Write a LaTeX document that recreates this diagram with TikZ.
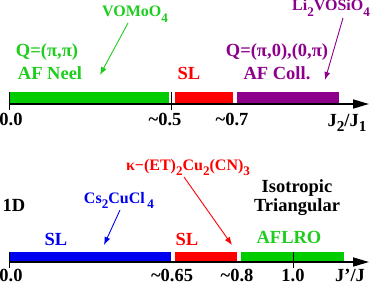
\documentclass[tikz,border=0pt]{standalone}
\usepackage{fontspec}
\usepackage{graphicx}
\setmainfont{Liberation Serif}
\usetikzlibrary{arrows.meta}
\definecolor{mygreen}{RGB}{0,204,0}
\definecolor{mytxtgreen}{RGB}{30,205,30}
\definecolor{mypurple}{RGB}{140,0,140}
\definecolor{myred}{RGB}{255,0,0}
\definecolor{myblue}{RGB}{0,0,240}
\newcommand{\lowsub}[1]{\raisebox{-0.32em}{\scalebox{0.82}{#1}}}
\begin{document}
\begin{tikzpicture}[x=1pt,y=-1pt,
  lbl/.style={anchor=base,inner sep=0pt,font=\fontsize{18.5}{20}\selectfont\bfseries},
  cmp/.style={anchor=base,inner sep=0pt,font=\fontsize{16}{18}\selectfont\bfseries},
  axisline/.style={line width=1.6pt,-{Triangle[length=16pt,width=9pt]}},
  tickline/.style={line width=0.8pt},
  ptr/.style={line width=0.9pt,-{Latex[length=8pt,width=6pt]}}]
\useasboundingbox (0,0) rectangle (374,286);
% ---------- top axis ----------
\fill[mygreen]  (9,92) rectangle (169,102.5);
\fill[myred]    (175,92) rectangle (233,102.5);
\fill[mypurple] (237,92) rectangle (339,102.5);
\coordinate (a0) at (9,104);
\coordinate (a1) at (369,104);
\draw[axisline] (a0) -- (a1);
\coordinate (t0a) at (9,92); \coordinate (t0b) at (9,110);
\coordinate (t5a) at (171,92); \coordinate (t5b) at (171,110);
\draw[tickline] (t0a) -- (t0b);
\draw[tickline] (t5a) -- (t5b);
\node[lbl] (l00) at (11,125) {0.0};
\node[lbl] (l05) at (165,125) {\textasciitilde0.5};
\node[lbl] (l07) at (232,125) {\textasciitilde0.7};
\node[lbl] (lj) at (347,126) {J\lowsub{2}/J\lowsub{1}};
\node[cmp,text=mytxtgreen] (vomo) at (135,17) {VOMoO\lowsub{4}};
\node[lbl,text=mytxtgreen] (qpp) at (47,57) {Q=(π,π)};
\node[lbl,text=mytxtgreen] (afn) at (50,80) {AF Neel};
\node[lbl,text=myred] (sl1) at (189,80) {SL};
\node[lbl,text=mypurple] (qp0) at (277,57) {Q=(π,0),(0,π)};
\node[lbl,text=mypurple] (afc) at (277,80) {AF Coll.};
\node[cmp,text=mypurple] (li) at (331,11) {Li\lowsub{2}VOSiO\lowsub{4}};
\coordinate (v1) at (128,23); \coordinate (v2) at (100,75);
\draw[ptr,mytxtgreen] (v1) -- (v2);
\coordinate (li1) at (343,18); \coordinate (li2) at (325,80);
\draw[ptr,mypurple] (li1) -- (li2);
% ---------- bottom axis ----------
\fill[myblue]   (9,252) rectangle (171,260.5);
\fill[myred]    (175,252) rectangle (237,260.5);
\fill[mygreen]  (241,252) rectangle (344,260.5);
\coordinate (b0) at (9,262);
\coordinate (b1) at (369,262);
\draw[axisline] (b0) -- (b1);
\coordinate (u0a) at (9,252); \coordinate (u0b) at (9,268);
\coordinate (u1a) at (293,252); \coordinate (u1b) at (293,268);
\draw[tickline] (u0a) -- (u0b);
\draw[tickline] (u1a) -- (u1b);
\node[lbl] (m00) at (11,281) {0.0};
\node[lbl] (m065) at (172,281) {\textasciitilde0.65};
\node[lbl] (m08) at (237,281) {\textasciitilde0.8};
\node[lbl] (m10) at (293,281) {1.0};
\node[lbl] (mj) at (350,281) {J'/J};
\node[lbl] (oned) at (14,211) {1D};
\node[cmp,text=myblue] (cs) at (119,203) {Cs\lowsub{2}CuCl\,\lowsub{4}};
\node[lbl,text=myblue] (sl2) at (56,245) {SL};
\node[lbl,text=myred] (sl3) at (187,245) {SL};
\node[cmp,text=myred] (kap) at (188,170) {κ−(ET)\lowsub{2}Cu\lowsub{2}(CN)\lowsub{3}};
\node[lbl] (iso) at (297,192) {Isotropic};
\node[lbl] (tri) at (297,211) {Triangular};
\node[lbl,text=mytxtgreen] (aflro) at (289,243) {AFLRO};
\coordinate (c1) at (120,210); \coordinate (c2) at (104,245);
\draw[ptr,myblue] (c1) -- (c2);
\coordinate (k1) at (184,177); \coordinate (k2) at (232,245);
\draw[ptr,myred] (k1) -- (k2);
\end{tikzpicture}
\end{document}
